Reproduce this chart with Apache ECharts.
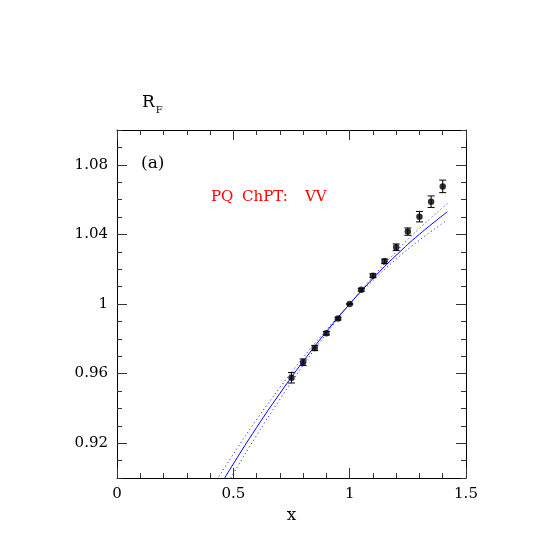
<!DOCTYPE html>
<html>
<head>
<meta charset="utf-8">
<script src="https://cdn.jsdelivr.net/npm/echarts@6/dist/echarts.min.js"></script>
<style>
  html, body { margin: 0; padding: 0; background: #fff; }
  #chart { width: 545px; height: 545px; }
</style>
</head>
<body>
<div id="chart"></div>
<script>
// data points
const xPoints = [0.75, 0.8, 0.85, 0.9, 0.95, 1.0, 1.05, 1.1, 1.15, 1.2, 1.25, 1.3, 1.35, 1.4]
const yPoints = [0.9576, 0.9665, 0.9747, 0.9832, 0.9916, 1.0, 1.0082, 1.0163, 1.0245, 1.0326, 1.0416, 1.0502, 1.0588, 1.0676]
const yErrors = [0.003, 0.0019, 0.0015, 0.001, 0.0008, 0.0, 0.0008, 0.001, 0.0013, 0.0019, 0.0021, 0.003, 0.0033, 0.0036]

// PQ ChPT fit: central curve and error band
const xCurve = [0.42, 0.5, 0.6, 0.7, 0.8, 0.9, 1.0, 1.1, 1.2, 1.3, 1.42]
const yCenter = [0.8905, 0.9081, 0.929, 0.9486, 0.967, 0.9841, 1.0, 1.0146, 1.028, 1.0401, 1.053]
const yUpper = [0.897, 0.9137, 0.9335, 0.952, 0.9692, 0.9852, 1.0, 1.0157, 1.0302, 1.0435, 1.0577]
const yLower = [0.884, 0.9025, 0.9245, 0.9452, 0.9648, 0.983, 1.0, 1.0135, 1.0258, 1.0367, 1.0483]

const yMajorTicks = [0.92, 0.96, 1, 1.04, 1.08]

const FONT = 'DejaVu Serif'
const TICK = '#333'

const zip = (xs, ys) => xs.map((x, i) => [x, ys[i]])

const chart = echarts.init(document.getElementById('chart'))

const baseX = {
  type: 'value',
  min: 0,
  max: 1.5,
  interval: 0.5,
  axisLine: { show: true, onZero: false, lineStyle: { color: '#000', width: 1 } },
  axisTick: { show: true, inside: true, length: 10, lineStyle: { color: TICK } },
  minorTick: { show: true, splitNumber: 5, length: 5, lineStyle: { color: TICK } },
  splitLine: { show: false },
}

const baseY = {
  type: 'value',
  min: 0.9,
  max: 1.1,
  interval: 0.01,
  splitLine: { show: false },
}

const redText = (text, left) => ({
  type: 'text',
  left,
  top: 190,
  style: { text, font: '15px "DejaVu Serif"', fill: '#ff0000' },
})

const option = {
  animation: false,
  backgroundColor: '#fff',
  grid: { left: 117, top: 130, right: 79, bottom: 67 },
  title: [
    {
      text: '{r|R}{f|F}',
      left: 137,
      top: 86,
      textStyle: {
        fontWeight: 'normal',
        rich: {
          r: { fontFamily: FONT, fontSize: 17, fontWeight: 'normal', color: '#000' },
          f: { fontFamily: FONT, fontSize: 10, fontWeight: 'normal', color: '#000', padding: [14, 0, 0, 1] },
        },
      },
    },
  ],
  graphic: [
    {
      type: 'text',
      left: 141,
      top: 155,
      style: { text: '(a)', font: '17px "DejaVu Serif"', fill: '#000' },
    },
    redText('PQ', 211),
    redText('ChPT:', 242),
    redText('VV', 305),
  ],
  xAxis: [
    {
      ...baseX,
      position: 'bottom',
      name: 'x',
      nameLocation: 'middle',
      nameGap: 28,
      nameTextStyle: { fontFamily: FONT, fontSize: 17, color: '#000' },
      axisLabel: { show: true, margin: 9, fontFamily: FONT, fontSize: 15, color: '#000' },
    },
    {
      ...baseX,
      position: 'top',
      axisLabel: { show: false },
    },
  ],
  yAxis: [
    {
      ...baseY,
      position: 'left',
      axisLine: { show: true, lineStyle: { color: '#000', width: 1 } },
      axisTick: { show: true, inside: true, length: 10, customValues: yMajorTicks, lineStyle: { color: TICK } },
      axisLabel: { show: true, margin: 9, customValues: yMajorTicks, fontFamily: FONT, fontSize: 15, color: '#000' },
    },
    {
      ...baseY,
      position: 'left',
      axisLine: { show: false },
      axisTick: { show: true, inside: true, length: 5, lineStyle: { color: TICK } },
      axisLabel: { show: false },
    },
    {
      ...baseY,
      position: 'right',
      axisLine: { show: true, lineStyle: { color: '#000', width: 1 } },
      axisTick: { show: true, inside: true, length: 10, customValues: yMajorTicks, lineStyle: { color: TICK } },
      axisLabel: { show: false },
    },
    {
      ...baseY,
      position: 'right',
      axisLine: { show: false },
      axisTick: { show: true, inside: true, length: 5, lineStyle: { color: TICK } },
      axisLabel: { show: false },
    },
  ],
  series: [
    {
      type: 'line',
      data: zip(xCurve, yCenter),
      smooth: true,
      showSymbol: false,
      lineStyle: { color: '#0000ff', width: 1 },
    },
    {
      type: 'line',
      data: zip(xCurve, yUpper),
      smooth: true,
      showSymbol: false,
      lineStyle: { color: '#0000ff', width: 1, type: [1, 3] },
    },
    {
      type: 'line',
      data: zip(xCurve, yLower),
      smooth: true,
      showSymbol: false,
      lineStyle: { color: '#0000ff', width: 1, type: [1, 3] },
    },
    {
      // error bars
      type: 'custom',
      data: xPoints.map((x, i) => [x, yPoints[i], yErrors[i]]),
      renderItem: (params, api) => {
        const x = api.value(0)
        const y = api.value(1)
        const e = api.value(2)
        const top = api.coord([x, y + e])
        const bot = api.coord([x, y - e])
        const w = 3.5
        return {
          type: 'group',
          children: [
            { type: 'line', shape: { x1: top[0], y1: top[1], x2: bot[0], y2: bot[1] }, style: { stroke: '#000', lineWidth: 1 } },
            { type: 'line', shape: { x1: top[0] - w, y1: top[1], x2: top[0] + w, y2: top[1] }, style: { stroke: '#000', lineWidth: 1 } },
            { type: 'line', shape: { x1: bot[0] - w, y1: bot[1], x2: bot[0] + w, y2: bot[1] }, style: { stroke: '#000', lineWidth: 1 } },
          ],
        }
      },
      z: 3,
    },
    {
      type: 'scatter',
      data: zip(xPoints, yPoints),
      symbol: 'circle',
      symbolSize: 6.5,
      itemStyle: { color: '#000' },
      z: 4,
    },
  ],
}

chart.setOption(option)
</script>
</body>
</html>
